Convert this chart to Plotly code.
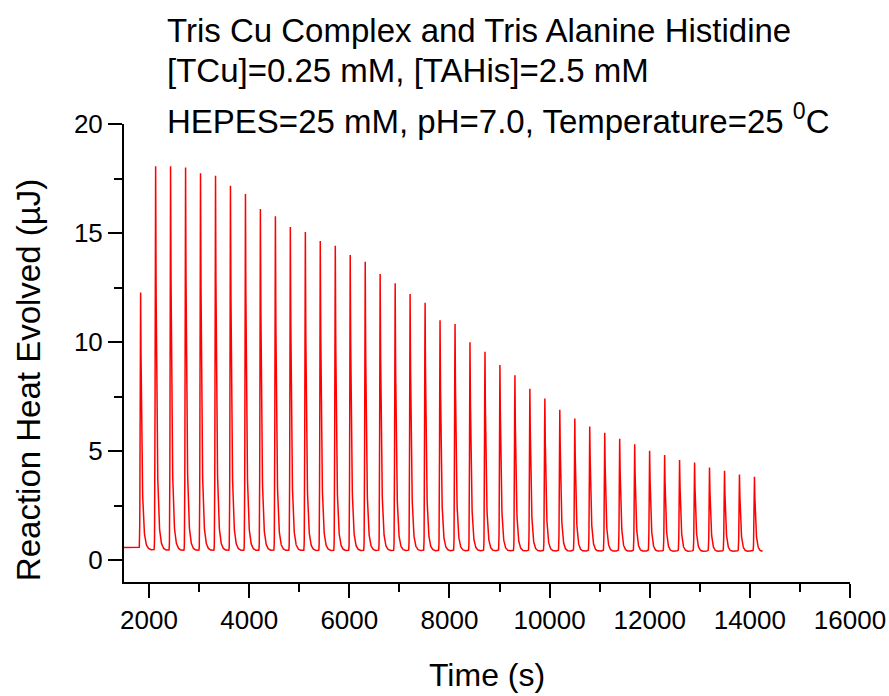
import numpy as np
import plotly.graph_objects as go

# ---- data ----
peak_times = [1833, 2132, 2431, 2730, 3029, 3328, 3627, 3926, 4225, 4524,
              4823, 5122, 5421, 5720, 6019, 6318, 6617, 6916, 7215, 7514,
              7813, 8112, 8411, 8710, 9009, 9308, 9607, 9906, 10205, 10504,
              10803, 11102, 11401, 11700, 11999, 12298, 12597, 12896, 13195, 13494,
              13793, 14092]
peak_heights = [12.36, 18.14, 18.28, 18.11, 17.96, 17.73, 17.39, 16.89, 16.32, 15.88,
                15.48, 15.15, 14.84, 14.52, 14.19, 13.79, 13.32, 12.80, 12.39, 11.91,
                11.18, 10.94, 10.17, 9.66, 9.12, 8.59, 8.02, 7.52, 7.05, 6.61,
                6.28, 5.95, 5.71, 5.43, 5.16, 4.93, 4.74, 4.59, 4.39, 4.21,
                4.06, 3.94]
baseline_start = 0.58
baseline_level = 0.56
undershoot = 0.13
t_start, t_end = 1500, 14255

x_ticks = [2000, 4000, 6000, 8000, 10000, 12000, 14000, 16000]
y_ticks = [0, 5, 10, 15, 20]

title_lines = ["Tris Cu Complex and Tris Alanine Histidine",
               "[TCu]=0.25 mM, [TAHis]=2.5 mM",
               "HEPES=25 mM, pH=7.0, Temperature=25 <sup>0</sup>C"]

# ---- build the thermogram trace from the peaks ----
t = np.arange(t_start, t_end + 1, 2.0)
sig = np.full_like(t, baseline_start)
sig[t >= peak_times[0] - 40] = baseline_level
for tp, h in zip(peak_times, peak_heights):
    amp = h - baseline_level
    dt = t - tp
    rise = np.where((dt < 0) & (dt > -60), amp * np.exp(-(dt / 12.0) ** 2), 0.0)
    fall = np.where(dt >= 0, amp * (0.85 * np.exp(-dt / 22.0) + 0.15 * np.exp(-dt / 55.0)), 0.0)
    pos = np.clip(dt, 0, None)
    dip = np.where(dt >= 0, -undershoot * (pos / 140.0) * np.exp(1 - pos / 140.0), 0.0)
    sig += rise + fall + dip

FONT = "Arial, Liberation Sans, sans-serif"

fig = go.Figure()
fig.add_trace(go.Scatter(x=t, y=sig, mode="lines",
                         line=dict(color="#ff0000", width=1.5),
                         hoverinfo="skip", showlegend=False))

axis_common = dict(showline=True, linecolor="black", linewidth=2,
                   ticks="outside", tickwidth=2.2, tickcolor="black", ticklen=14,
                   showgrid=False, zeroline=False, mirror=False, automargin=False,
                   tickfont=dict(family=FONT, size=26, color="black"))

fig.update_xaxes(range=[1500, 16000], tickvals=x_ticks,
                 ticktext=[str(v) for v in x_ticks],
                 minor=dict(ticks="outside", tickvals=[3000, 5000, 7000, 9000, 11000, 13000, 15000],
                            ticklen=8, tickwidth=2.2, tickcolor="black"),
                 **axis_common)
fig.update_yaxes(range=[-1, 20], tickvals=y_ticks,
                 ticktext=[str(v) for v in y_ticks],
                 minor=dict(ticks="outside", tickvals=[2.5, 7.5, 12.5, 17.5],
                            ticklen=8, tickwidth=2.2, tickcolor="black"),
                 **axis_common)

annotations = []
for i, (line, yp) in enumerate(zip(title_lines, [30, 70, 119])):
    annotations.append(dict(text=line, xref="paper", yref="paper",
                            x=(165 - 124) / 727, y=(582 - yp) / 458,
                            xanchor="left", yanchor="middle", showarrow=False,
                            font=dict(family=FONT, size=33, color="black")))
annotations.append(dict(text="Time (s)", xref="paper", yref="paper",
                        x=(487 - 124) / 727, y=(582 - 675) / 458,
                        xanchor="center", yanchor="middle", showarrow=False,
                        font=dict(family=FONT, size=32, color="black")))
annotations.append(dict(text="Reaction Heat Evolved (\u00b5J)", xref="paper", yref="paper",
                        x=(28 - 124) / 727, y=(582 - 380) / 458, textangle=-90,
                        xanchor="center", yanchor="middle", showarrow=False,
                        font=dict(family=FONT, size=33, color="black")))

fig.update_layout(width=889, height=696, autosize=False,
                  margin=dict(l=124, r=39, t=124, b=114),
                  paper_bgcolor="white", plot_bgcolor="white",
                  annotations=annotations)

fig.write_html("out.html")
